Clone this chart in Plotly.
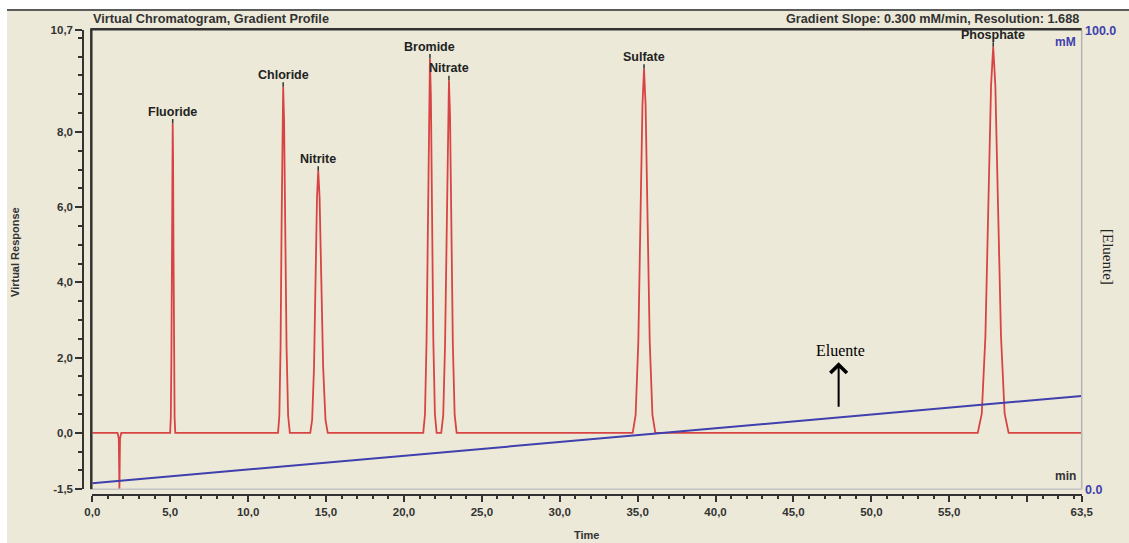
import plotly.graph_objects as go

W, H = 1129, 543

# ---- data -------------------------------------------------------------
# Chromatogram trace (time in min, virtual response)
baseline_start = ([0.0], [0.0])
dip_time = [1.62, 1.70, 1.74, 1.78, 1.86]
dip_resp = [0.0, -0.15, -1.5, -0.15, 0.0]

fluoride_time = [4.995, 5.038, 5.077, 5.109, 5.137, 5.16, 5.183, 5.211, 5.243, 5.282, 5.325]
fluoride_resp = [0.0, 0.41, 2.06, 4.93, 7.40, 8.22, 7.40, 4.93, 2.06, 0.41, 0.0]

chloride_time = [11.92, 12.005, 12.083, 12.149, 12.204, 12.25, 12.31, 12.381, 12.466, 12.568, 12.679]
chloride_resp = [0.0, 0.46, 2.30, 5.52, 8.28, 9.20, 8.28, 5.52, 2.30, 0.46, 0.0]

nitrite_time = [13.99, 14.11, 14.23, 14.33, 14.422, 14.5, 14.587, 14.692, 14.816, 14.965, 15.11]
nitrite_resp = [0.0, 0.35, 1.74, 4.18, 6.27, 6.97, 6.27, 4.18, 1.74, 0.35, 0.0]

bromide_time = [21.241, 21.352, 21.454, 21.539, 21.61, 21.67, 21.73, 21.801, 21.886, 21.988, 22.099]
bromide_resp = [0.0, 0.50, 2.49, 5.97, 8.96, 9.95, 8.96, 5.97, 2.49, 0.50, 0.0]

nitrate_time = [22.395, 22.523, 22.64, 22.738, 22.821, 22.89, 22.959, 23.042, 23.14, 23.257, 23.385]
nitrate_resp = [0.0, 0.47, 2.34, 5.62, 8.43, 9.37, 8.43, 5.62, 2.34, 0.47, 0.0]

sulfate_time = [34.684, 34.871, 35.044, 35.188, 35.309, 35.41, 35.511, 35.632, 35.776, 35.949, 36.136]
sulfate_resp = [0.0, 0.48, 2.42, 5.81, 8.71, 9.68, 8.71, 5.81, 2.42, 0.48, 0.0]

phosphate_time = [56.83, 57.086, 57.32, 57.517, 57.682, 57.82, 57.958, 58.123, 58.32, 58.554, 58.81]
phosphate_resp = [0.0, 0.51, 2.57, 6.16, 9.23, 10.26, 9.23, 6.16, 2.57, 0.51, 0.0]

baseline_end = ([63.5], [0.0])

# Peak labels (name, retention time, apex height)
peak_names = ["Fluoride", "Chloride", "Nitrite", "Bromide", "Nitrate", "Sulfate", "Phosphate"]
peak_times = [5.16, 12.25, 14.5, 21.67, 22.89, 35.41, 57.82]
peak_heights = [8.22, 9.20, 6.97, 9.95, 9.37, 9.68, 10.26]

# Eluent gradient (mM) on the right-hand axis
eluent_time = [0.0, 63.5]
eluent_mm = [1.3, 20.35]

# Axis ticks
y_tickvals = [-1.5, 0.0, 2.0, 4.0, 6.0, 8.0, 10.7]
y_ticktext = ["-1,5", "0,0", "2,0", "4,0", "6,0", "8,0", "10,7"]
y_minor = [-1.0, -0.5, 0.5, 1.0, 1.5, 2.5, 3.0, 3.5, 4.5, 5.0, 5.5, 6.5, 7.0, 7.5,
           8.5, 9.0, 9.5, 10.0, 10.5]
x_tickvals = [0, 5, 10, 15, 20, 25, 30, 35, 40, 45, 50, 55, 60, 63.5]
x_ticktext = ["0,0", "5,0", "10,0", "15,0", "20,0", "25,0", "30,0", "35,0", "40,0",
              "45,0", "50,0", "55,0", "", "63,5"]
x_minor = [m for m in range(1, 64) if m % 5 != 0]

# ---- assemble trace --------------------------------------------------
segments = [baseline_start, (dip_time, dip_resp), (fluoride_time, fluoride_resp),
            (chloride_time, chloride_resp), (nitrite_time, nitrite_resp),
            (bromide_time, bromide_resp), (nitrate_time, nitrate_resp),
            (sulfate_time, sulfate_resp), (phosphate_time, phosphate_resp), baseline_end]
trace_t, trace_r = [], []
for ts, rs in segments:
    trace_t += list(ts)
    trace_r += list(rs)

BEIGE = "#ECE9D8"
DARK = "#333333"
BLUE = "#3f3fae"
SANS = "Liberation Sans"


def px(x):
    return x / W


def py(y):
    return 1 - y / H


X0, X1 = 92.3, 1081.7
Y_TOP, Y_BOT = 30.3, 489.3

fig = go.Figure()
fig.add_trace(go.Scatter(x=eluent_time, y=eluent_mm, mode="lines", yaxis="y2",
                         line=dict(color=BLUE, width=2), hoverinfo="skip"))
fig.add_trace(go.Scatter(x=trace_t, y=trace_r, mode="lines",
                         line=dict(color="#d84444", width=1.8), hoverinfo="skip"))

tick_font = dict(family=SANS, size=11.5, color=DARK, weight="bold")

fig.update_layout(
    width=W, height=H, autosize=False,
    margin=dict(l=0, r=0, t=0, b=0, pad=0, autoexpand=False),
    paper_bgcolor="white", plot_bgcolor=BEIGE,
    showlegend=False,
    xaxis=dict(domain=[px(X0), px(X1)], range=[0, 63.5], anchor="free",
               position=py(495), showgrid=False, zeroline=False, automargin=False,
               showline=True, linecolor=DARK, linewidth=2,
               ticks="outside", ticklen=6, tickwidth=2, tickcolor=DARK,
               tickvals=x_tickvals, ticktext=x_ticktext, tickfont=tick_font,
               minor=dict(tickvals=x_minor, ticks="outside", ticklen=3,
                          tickwidth=1.5, tickcolor=DARK)),
    yaxis=dict(domain=[py(Y_BOT), py(Y_TOP)], range=[-1.5, 10.7], anchor="free",
               position=px(83.3), showgrid=False, zeroline=False, automargin=False,
               showline=True, linecolor=DARK, linewidth=2,
               ticks="outside", ticklen=7, tickwidth=2, tickcolor=DARK,
               tickvals=y_tickvals, ticktext=y_ticktext, tickfont=tick_font,
               minor=dict(tickvals=y_minor, ticks="outside", ticklen=4,
                          tickwidth=1.5, tickcolor=DARK)),
    yaxis2=dict(overlaying="y", side="right", range=[0, 100], anchor="free",
                position=px(1084), showgrid=False, zeroline=False, showline=False,
                automargin=False,
                ticks="", tickvals=[0, 100], ticktext=["0.0", "100.0"],
                tickfont=dict(family=SANS, size=12.5, color=BLUE, weight="bold")),
)

shapes = [
    # beige panel and top rule
    dict(type="rect", xref="paper", yref="paper", x0=px(7), x1=1, y0=0, y1=py(10),
         fillcolor=BEIGE, line=dict(width=0), layer="below"),
    dict(type="line", xref="paper", yref="paper", x0=px(7), x1=1, y0=py(10), y1=py(10),
         line=dict(color="#5a5a5a", width=2)),
    # plot frame: light right/bottom, dark left/top
    dict(type="line", xref="paper", yref="paper", x0=px(X1), x1=px(X1), y0=py(Y_BOT), y1=py(Y_TOP),
         line=dict(color="#b4b4b4", width=1.5)),
    dict(type="line", xref="paper", yref="paper", x0=px(X0), x1=px(X1), y0=py(Y_BOT), y1=py(Y_BOT),
         line=dict(color="#c4c4c4", width=1.5)),
    dict(type="line", xref="paper", yref="paper", x0=px(X0 - 1), x1=px(X0 - 1), y0=py(Y_BOT), y1=py(Y_TOP - 1),
         line=dict(color=DARK, width=2.5)),
    dict(type="line", xref="paper", yref="paper", x0=px(X0 - 2), x1=px(X1), y0=py(Y_TOP - 1), y1=py(Y_TOP - 1),
         line=dict(color=DARK, width=2.5)),
]
fig.update_layout(shapes=shapes)

annotations = []
head_font = dict(family=SANS, size=12.7, color=DARK, weight="bold")
annotations.append(dict(xref="paper", yref="paper", x=px(91), y=py(19), text="Virtual Chromatogram, Gradient Profile",
                        showarrow=False, xanchor="left", yanchor="middle", font=head_font))
annotations.append(dict(xref="paper", yref="paper", x=px(1081), y=py(19),
                        text="Gradient Slope: 0.300 mM/min, Resolution: 1.688",
                        showarrow=False, xanchor="right", yanchor="middle", font=head_font))

# peak names with a short marker above each apex
for name, t, h in zip(peak_names, peak_times, peak_heights):
    annotations.append(dict(x=t, y=h, xref="x", yref="y", text=name, showarrow=True,
                            arrowhead=0, arrowwidth=1.5, arrowcolor=DARK, ax=0, ay=-12,
                            font=dict(family=SANS, size=12.5, color="#222222", weight="bold"),
                            borderpad=0))

# axis titles and unit labels
annotations.append(dict(xref="paper", yref="paper", x=px(15), y=py(252), text="Virtual Response",
                        textangle=-90, showarrow=False, xanchor="center", yanchor="middle",
                        font=dict(family=SANS, size=11, color=DARK, weight="bold")))
annotations.append(dict(xref="paper", yref="paper", x=px(586), y=py(535), text="Time",
                        showarrow=False, xanchor="center", yanchor="middle",
                        font=dict(family=SANS, size=11, color=DARK, weight="bold")))
annotations.append(dict(xref="paper", yref="paper", x=px(1078), y=py(42), text="mM",
                        showarrow=False, xanchor="right", yanchor="middle",
                        font=dict(family=SANS, size=12, color=BLUE, weight="bold")))
annotations.append(dict(xref="paper", yref="paper", x=px(1078), y=py(476), text="min",
                        showarrow=False, xanchor="right", yanchor="middle",
                        font=dict(family=SANS, size=12, color=DARK, weight="bold")))
annotations.append(dict(xref="paper", yref="paper", x=px(1108), y=py(257), text="[Eluente]",
                        textangle=90, showarrow=False, xanchor="center", yanchor="middle",
                        font=dict(family="Liberation Serif", size=15, color="#222222")))

# eluent call-out
annotations.append(dict(x=47.9, y=1.88, xref="x", yref="y", text="", showarrow=True,
                        arrowhead=4, arrowsize=1.6, arrowwidth=2, arrowcolor="black",
                        ax=0, ay=46))
annotations.append(dict(x=48.0, y=2.2, xref="x", yref="y", text="Eluente", showarrow=False,
                        font=dict(family="Liberation Serif", size=16, color="black")))
fig.update_layout(annotations=annotations)

fig.write_html("out.html")
